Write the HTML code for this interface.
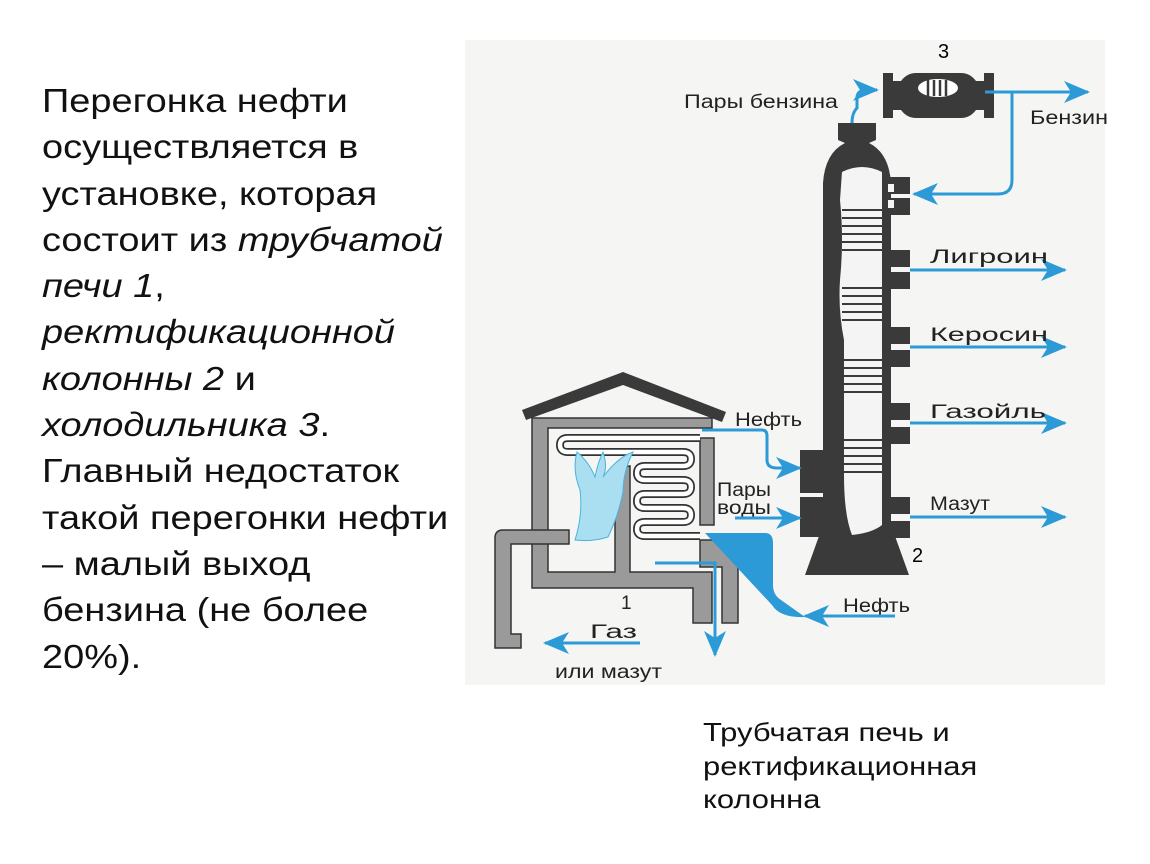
<!DOCTYPE html>
<html><head><meta charset="utf-8"><style>
html,body{margin:0;padding:0;background:#fff;}
body{width:1150px;height:864px;position:relative;overflow:hidden;font-family:"Liberation Sans",Arial,sans-serif;}
#txt{position:absolute;left:42px;top:78px;font-size:33px;line-height:46.3px;color:#111;white-space:nowrap;transform:scaleX(1.15);transform-origin:0 0;}
#cap{position:absolute;left:703px;top:716px;font-size:26px;line-height:33.5px;color:#111;white-space:nowrap;transform:scaleX(1.19);transform-origin:0 0;}
svg{position:absolute;left:0;top:0;}
</style></head><body>
<svg width="1150" height="864" viewBox="0 0 1150 864" font-family="Liberation Sans, Arial, sans-serif">
<defs><marker id="a2" markerWidth="26" markerHeight="22" refX="24" refY="11" orient="auto" markerUnits="userSpaceOnUse"><path d="M0,0 L26,11 L0,22 L7,11 z" fill="#2b9ad6"/></marker></defs>
<rect x="465" y="40" width="640" height="645" fill="#f5f6f4"/>
<!-- cooler -->
<path d="M883,73 h10 v8 h8 q6,-8 15,-8 h45 q9,0 15,8 h8 v-8 h10 v45 h-10 v-8 h-8 q-6,8 -15,8 h-45 q-9,0 -15,-8 h-8 v8 h-10z" fill="#3a3a3a"/>
<ellipse cx="938" cy="88" rx="20" ry="9" fill="#fff"/>
<g stroke="#3a3a3a" stroke-width="2.5"><line x1="928" y1="80" x2="928" y2="96"/><line x1="934" y1="80" x2="934" y2="96"/><line x1="940" y1="80" x2="940" y2="96"/><line x1="946" y1="80" x2="946" y2="96"/></g>
<text x="938" y="58" font-size="20">3</text>
<!-- column -->
<path d="M838,123 h38 v17 l-7,3 q20,10 22,40 V525 l18,50 H805 l18,-50 V183 q2,-30 22,-40 l-7,-3z" fill="#3a3a3a"/>
<path d="M842,172 q20,-10 40,0 V525 q-10,8 -30,10 q-8,-20 -8,-60 V340 q-6,-30 -4,-60 q4,-40 0,-80z" fill="#f4f4f4"/>
<g stroke="#3a3a3a" stroke-width="2">
<line x1="842" y1="210" x2="884" y2="210"/><line x1="842" y1="218" x2="884" y2="218"/><line x1="842" y1="226" x2="884" y2="226"/><line x1="842" y1="234" x2="884" y2="234"/><line x1="842" y1="242" x2="884" y2="242"/><line x1="842" y1="250" x2="884" y2="250"/>
<line x1="842" y1="288" x2="884" y2="288"/><line x1="842" y1="296" x2="884" y2="296"/><line x1="842" y1="304" x2="884" y2="304"/><line x1="842" y1="312" x2="884" y2="312"/><line x1="842" y1="320" x2="884" y2="320"/>
<line x1="842" y1="360" x2="884" y2="360"/><line x1="842" y1="368" x2="884" y2="368"/><line x1="842" y1="376" x2="884" y2="376"/><line x1="842" y1="384" x2="884" y2="384"/><line x1="842" y1="392" x2="884" y2="392"/>
<line x1="842" y1="440" x2="884" y2="440"/><line x1="842" y1="448" x2="884" y2="448"/><line x1="842" y1="456" x2="884" y2="456"/><line x1="842" y1="464" x2="884" y2="464"/><line x1="842" y1="472" x2="884" y2="472"/>
</g>
<g fill="#3a3a3a">
<rect x="885" y="177" width="25" height="17"/><rect x="885" y="198" width="25" height="17"/>
<rect x="885" y="250" width="25" height="17"/><rect x="885" y="272" width="25" height="17"/>
<rect x="885" y="327" width="25" height="17"/><rect x="885" y="350" width="25" height="17"/>
<rect x="885" y="403" width="25" height="17"/><rect x="885" y="427" width="25" height="17"/>
<rect x="885" y="497" width="25" height="17"/><rect x="885" y="521" width="25" height="17"/>
<rect x="800" y="450" width="26" height="43"/><rect x="800" y="497" width="26" height="40"/>
</g>
<g fill="#f5f6f4"><rect x="888" y="184" width="6" height="8"/><rect x="888" y="200" width="6" height="8"/></g>
<text x="912" y="562" font-size="20">2</text>
<!-- blue arrows right side -->
<g stroke="#2b9ad6" stroke-width="3" fill="none">
<path d="M852,123 q0,-10 5,-15 v-10 q0,-8 10,-8 h10" marker-end="url(#a2)"/>
<path d="M985,92 H1088" marker-end="url(#a2)"/>
<path d="M1012,92 V180 q0,14 -14,14 H914" marker-end="url(#a2)"/>
<path d="M910,270 H1065" marker-end="url(#a2)"/>
<path d="M910,347 H1065" marker-end="url(#a2)"/>
<path d="M910,423 H1065" marker-end="url(#a2)"/>
<path d="M910,517 H1065" marker-end="url(#a2)"/>
</g>
<g font-size="19" fill="#222" lengthAdjust="spacingAndGlyphs">
<text x="684" y="108" textLength="154" lengthAdjust="spacingAndGlyphs">Пары бензина</text>
<text x="1030" y="124" textLength="78" lengthAdjust="spacingAndGlyphs">Бензин</text>
<text x="930" y="263" textLength="118" lengthAdjust="spacingAndGlyphs">Лигроин</text>
<text x="930" y="341" textLength="118" lengthAdjust="spacingAndGlyphs">Керосин</text>
<text x="930" y="418" textLength="116" lengthAdjust="spacingAndGlyphs">Газойль</text>
<text x="930" y="510" textLength="60" lengthAdjust="spacingAndGlyphs">Мазут</text>
<text x="735" y="426" textLength="67" lengthAdjust="spacingAndGlyphs">Нефть</text>
<text x="717" y="496" textLength="54" lengthAdjust="spacingAndGlyphs">Пары</text>
<text x="717" y="514" textLength="54" lengthAdjust="spacingAndGlyphs">воды</text>
<text x="843" y="612" textLength="67" lengthAdjust="spacingAndGlyphs">Нефть</text>
<text x="590" y="638" textLength="47" lengthAdjust="spacingAndGlyphs">Газ</text>
<text x="555" y="678" textLength="107" lengthAdjust="spacingAndGlyphs">или мазут</text>
<text x="621" y="609">1</text>
</g>
<!-- furnace -->
<path d="M522,410 L623,372 L726,412 L722,422 L623,385 L526,420z" fill="#3a3a3a"/>
<path d="M532,418 H712 V428 H548 V572 H615 V468 L630,466 V572 H712 V623 H693 V588 H532z" fill="#9a9a9a" stroke="#333" stroke-width="1.5"/>
<rect x="700" y="438" width="14" height="87" fill="#9a9a9a" stroke="#333" stroke-width="1.5"/>
<path d="M700,540 h13 l25,25 v58 h-16 v-56 h-22z" fill="#9a9a9a" stroke="#333" stroke-width="1.5"/>
<path d="M495,648 V538 q0,-8 8,-8 h66 v14 h-58 v90 h10 v14z" fill="#9a9a9a" stroke="#333" stroke-width="1.5"/>
<!-- coil -->
<path d="M700,438 H568 q-8,0 -8,7 t8,7 H683 q8,0 8,7 t-8,7 H645 q-8,0 -8,7 t8,7 H683 q8,0 8,7 t-8,7 H645 q-8,0 -8,7 t8,7 H683 q8,0 8,7 t-8,7 H645 q-8,0 -8,7 t8,7 H700" fill="none" stroke="#333" stroke-width="8"/>
<path d="M700,438 H568 q-8,0 -8,7 t8,7 H683 q8,0 8,7 t-8,7 H645 q-8,0 -8,7 t8,7 H683 q8,0 8,7 t-8,7 H645 q-8,0 -8,7 t8,7 H683 q8,0 8,7 t-8,7 H645 q-8,0 -8,7 t8,7 H700" fill="none" stroke="#fff" stroke-width="4.5"/>
<!-- flame -->
<path d="M575,540 q8,-25 5,-50 q-8,-20 -3,-38 q12,10 18,25 q3,-15 8,-25 q5,15 0,25 q15,-20 30,-25 q-10,20 -10,40 q-5,25 -15,45 q-15,5 -33,3z" fill="#a9dff0" stroke="#4ab3dc" stroke-width="1"/>
<!-- furnace blue -->
<g stroke="#2b9ad6" stroke-width="3" fill="none">
<path d="M702,430 H762 q5,0 5,6 V460 q0,8 10,8 H800" marker-end="url(#a2)"/>
<path d="M735,518 H800" marker-end="url(#a2)"/>
<path d="M895,616 H805" marker-end="url(#a2)"/>
<path d="M640,643 H545" marker-end="url(#a2)"/>
<path d="M655,563 H715 V655" marker-end="url(#a2)"/>
</g>
<path d="M705,533 H765 q8,0 8,10 V585 q0,10 8,15 L805,617 Q780,618 772,605 Z" fill="#2b9ad6"/>
</svg>
<div id="txt">Перегонка нефти<br>осуществляется в<br>установке, которая<br>состоит из <i>трубчатой</i><br><i>печи 1</i>,<br><i>ректификационной</i><br><i>колонны 2</i> и<br><i>холодильника 3</i>.<br>Главный недостаток<br>такой перегонки нефти<br>– малый выход<br>бензина (не более<br>20%).</div>
<div id="cap">Трубчатая печь и<br>ректификационная<br>колонна</div>
</body></html>
